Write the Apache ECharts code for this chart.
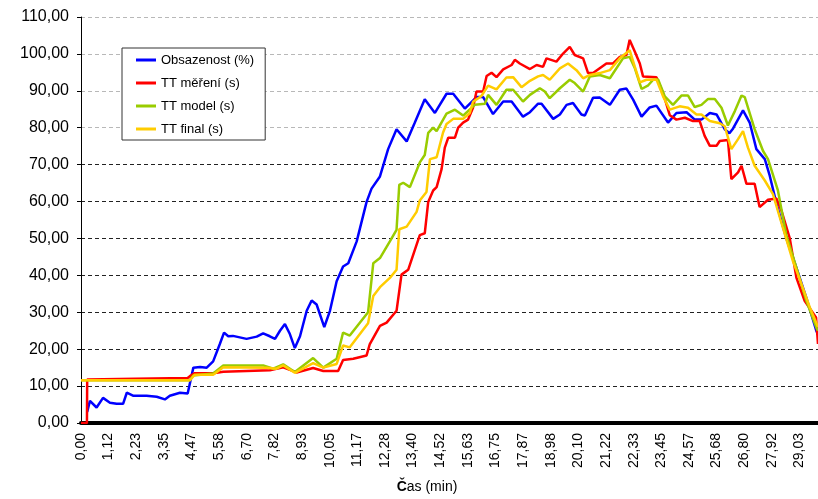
<!DOCTYPE html>
<html>
<head>
<meta charset="utf-8">
<script src="https://cdn.jsdelivr.net/npm/echarts@6/dist/echarts.min.js"></script>
<style>
  html, body { margin: 0; padding: 0; background: #fff; }
  #chart { width: 818px; height: 499px; }
</style>
</head>
<body>
<div id="chart"></div>
<script>
// cas v minutach
const obsT = [0.25,0.36,0.63,0.89,1.17,1.44,1.70,1.85,2.10,2.65,3.06,3.39,3.59,4.00,4.31,4.54,4.81,5.08,5.34,5.61,5.78,5.95,6.14,6.69,7.10,7.36,7.63,7.84,8.04,8.24,8.44,8.64,8.85,9.12,9.32,9.52,9.83,10.06,10.33,10.59,10.80,11.14,11.54,11.74,12.08,12.41,12.75,13.16,13.49,13.89,14.30,14.77,15.04,15.51,15.98,16.25,16.65,17.06,17.40,17.86,18.14,18.47,18.61,19.08,19.35,19.62,19.88,20.22,20.36,20.69,20.96,21.37,21.77,22.04,22.31,22.65,22.98,23.25,23.72,24.06,24.47,24.80,25.07,25.41,25.68,26.01,26.20,26.35,26.75,27.02,27.29,27.63,27.83,28.10,28.50,28.91,29.31,29.71,29.78]
const obsV = [3.0,6.0,4.2,6.8,5.5,5.2,5.2,8.2,7.4,7.4,7.1,6.4,7.4,8.2,8.0,15.0,15.2,15.0,16.7,21.4,24.5,23.5,23.6,22.8,23.4,24.3,23.5,22.8,25.0,26.8,24.1,20.3,23.5,30.4,33.2,32.1,26.0,30.4,38.4,42.4,43.3,49.2,59.9,63.5,66.8,74.2,79.6,76.3,81.4,87.7,84.0,89.2,89.2,85.2,88.3,88.3,83.7,87.1,87.1,83.0,84.2,86.5,86.5,82.4,83.6,86.2,86.7,83.6,83.3,88.1,88.2,86.2,90.3,90.6,87.6,83.0,85.5,86.0,81.4,84.0,84.2,82.2,82.2,84.0,83.6,79.6,78.5,79.8,84.7,81.4,74.2,71.5,67.0,59.5,50.0,42.0,33.9,25.0,24.0]

const merT = [0,0.24,0.25,2.20,4.31,4.40,4.60,5.34,5.75,6.69,7.63,8.17,8.71,9.38,9.79,10.39,10.59,11.00,11.54,11.67,12.08,12.35,12.75,12.95,13.22,13.49,13.69,13.89,14.03,14.23,14.37,14.57,14.70,14.84,15.11,15.24,15.44,15.64,15.84,15.98,16.25,16.39,16.59,16.79,17.06,17.40,17.53,17.73,18.14,18.41,18.67,18.81,19.21,19.48,19.75,19.95,20.29,20.49,20.69,20.96,21.23,21.50,21.77,22.04,22.17,22.38,22.58,22.71,23.25,23.52,23.79,24.06,24.40,24.73,25.00,25.20,25.41,25.68,25.81,26.14,26.28,26.55,26.69,26.89,27.22,27.42,27.76,28.10,28.30,28.64,28.91,29.24,29.70,29.78]
const merV = [0,0,11.8,12.0,12.2,12.7,13.5,13.5,13.9,14.1,14.3,15.1,13.7,14.9,14.1,14.1,17.1,17.4,18.3,21.4,26.3,27.2,30.4,40.2,41.5,46.9,50.9,51.4,59.9,63.0,63.9,68.8,74.6,77.3,77.3,80.0,81.4,82.2,85.4,89.8,89.8,94.0,94.9,93.7,95.8,97.0,98.4,97.4,95.9,97.0,96.5,98.8,97.9,100.1,101.9,99.7,98.8,94.8,94.8,96.1,97.4,97.4,99.2,99.7,103.8,100.6,97.4,93.9,93.7,89.4,83.4,82.2,82.7,81.8,81.8,77.8,75.1,75.1,76.4,76.7,66.1,67.9,69.7,64.8,64.8,58.5,60.5,60.8,57.6,50.0,39.3,33.1,28.6,21.4]

const modT = [0,4.40,4.54,5.34,5.75,7.36,7.77,8.17,8.64,9.38,9.79,10.33,10.59,10.86,11.60,11.81,12.08,12.48,12.75,12.86,13.02,13.29,13.69,13.89,14.03,14.23,14.37,14.77,15.11,15.44,15.91,16.32,16.45,16.79,17.19,17.46,17.86,18.14,18.54,18.74,18.94,19.35,19.75,19.95,20.29,20.56,20.96,21.37,21.90,22.17,22.38,22.65,22.92,23.12,23.32,23.59,23.92,24.26,24.53,24.80,25.07,25.34,25.61,25.88,26.14,26.42,26.69,26.82,27.22,27.56,27.76,28.16,28.50,28.91,29.31,29.71,29.78]
const modV = [11.6,11.6,12.9,13.4,15.6,15.6,14.7,15.9,13.8,17.6,15.0,17.4,24.5,23.7,30.0,43.3,44.7,49.2,52.3,64.5,65.1,63.9,70.6,72.6,78.6,80.0,79.1,83.8,84.9,83.3,86.2,86.5,88.9,86.2,90.3,90.3,87.1,88.9,90.7,89.8,88.0,90.7,93.0,92.1,89.8,93.9,94.3,93.4,98.8,99.2,96.1,90.5,91.5,93.0,93.1,88.5,86.2,88.7,88.7,85.6,86.2,87.8,87.8,85.4,80.6,84.5,88.7,88.3,79.6,73.7,71.5,63.0,50.9,42.0,33.1,25.9,25.0]

const finT = [0,4.40,4.60,5.34,5.75,7.50,7.90,8.17,8.64,9.38,9.79,10.33,10.59,10.86,11.60,11.81,12.08,12.48,12.75,12.86,13.16,13.56,13.69,13.96,14.10,14.37,14.63,14.77,15.04,15.44,15.71,15.84,16.18,16.45,16.79,17.19,17.46,17.80,18.14,18.47,18.67,18.94,19.35,19.68,20.02,20.29,20.56,20.96,21.37,21.77,22.17,22.38,22.58,22.85,23.25,23.52,23.79,24.19,24.53,24.87,25.07,25.41,25.81,26.01,26.28,26.55,26.75,26.95,27.22,27.63,27.96,28.37,28.77,29.17,29.45,29.78]
const finV = [11.6,11.6,13.1,13.1,15.1,15.0,14.7,15.6,13.6,16.2,15.0,16.0,21.0,20.5,27.0,34.4,36.8,39.3,41.5,52.5,53.2,57.2,60.3,62.6,71.5,72.0,78.7,81.0,82.4,82.4,84.0,87.0,88.6,91.4,90.4,93.6,93.7,91.0,92.7,93.9,94.3,93.0,96.1,97.4,95.6,93.4,94.3,94.8,95.6,98.8,101.0,96.5,92.3,93.0,93.1,88.5,84.9,85.8,85.4,83.6,83.6,81.8,81.2,80.4,74.2,76.9,79.1,74.6,69.7,65.7,62.0,52.7,43.8,36.6,31.3,26.0]

const seriesNames = ['Obsazenost (%)', 'TT měření (s)', 'TT model (s)', 'TT final (s)']
const seriesColors = ['#0000ff', '#ff0000', '#99cc00', '#ffcc00']
const xStep = 67 / 60   // popisky osy x po 67 s
const xMax = 29.78

function zip(t, v) {
    let out = []
    for (let i = 0; i < t.length; i++) out.push([t[i], v[i]])
    return out
}
function fmt(v) {
    return v.toFixed(2).replace('.', ',')
}

const chart = echarts.init(document.getElementById('chart'))
const dataList = [zip(obsT, obsV), zip(merT, merV), zip(modT, modV), zip(finT, finV)]

let series = []
for (let i = 0; i < dataList.length; i++) {
    series.push({
        name: seriesNames[i],
        type: 'line',
        data: dataList[i],
        showSymbol: false,
        symbol: 'none',
        lineStyle: { color: seriesColors[i], width: 2.5 },
        itemStyle: { color: seriesColors[i] },
        animation: false
    })
}

// horni mrizka je v predloze svetlejsi
let gridColors = []
for (let i = 0; i <= 11; i++) gridColors.push(i >= 8 ? '#b8b8b8' : '#222')

chart.setOption({
    backgroundColor: '#fff',
    animation: false,
    textStyle: { fontFamily: 'Liberation Sans, Arial, sans-serif' },
    grid: { left: 81, right: 0, top: 17, bottom: 72 },
    legend: {
        orient: 'vertical',
        left: 122,
        top: 48,
        data: seriesNames,
        icon: 'rect',
        itemWidth: 20,
        itemHeight: 3,
        itemGap: 9,
        padding: [5, 11, 4, 14],
        borderColor: '#333',
        borderWidth: 1,
        backgroundColor: '#fff',
        textStyle: { fontSize: 13, color: '#000', lineHeight: 14, fontFamily: 'Liberation Sans' }
    },
    xAxis: {
        type: 'value',
        min: 0,
        max: xMax,
        interval: xStep,
        name: '{b|Č}as (min)',
        nameLocation: 'middle',
        nameGap: 57,
        nameTextStyle: {
            fontSize: 14, color: '#000', padding: [0, 45, 0, 0],
            rich: { b: { fontWeight: 'bold', fontSize: 14, color: '#000' } }
        },
        axisLine: { lineStyle: { color: '#000', width: 4 } },
        axisTick: { show: false },
        splitLine: { show: false },
        axisLabel: {
            rotate: 90,
            margin: 10,
            fontSize: 14,
            color: '#000',
            showMaxLabel: false,
            formatter: fmt
        }
    },
    yAxis: {
        type: 'value',
        min: 0,
        max: 110,
        interval: 10,
        axisLine: { show: true, lineStyle: { color: '#000', width: 1 } },
        axisTick: { show: true, length: 4, lineStyle: { color: '#000' } },
        axisLabel: { fontSize: 16, color: '#000', margin: 12, formatter: fmt },
        splitLine: { show: true, lineStyle: { color: gridColors, type: [4, 3], width: 1 } }
    },
    series: series
})
</script>
</body>
</html>
